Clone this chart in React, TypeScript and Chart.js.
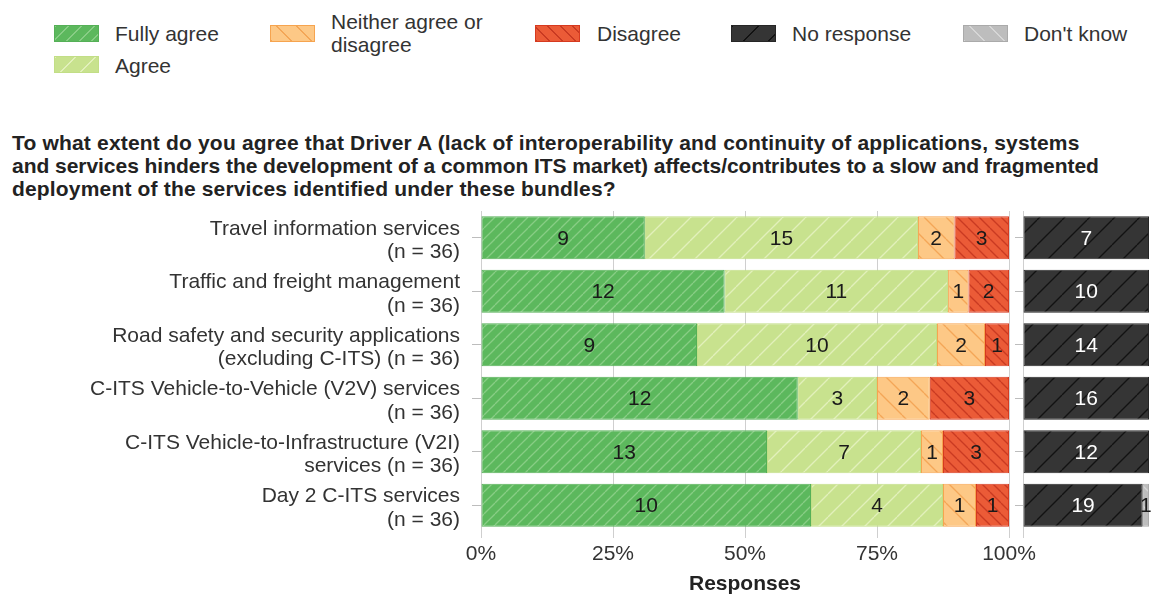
import React, { useEffect, useRef } from 'react';
import { Chart, registerables } from 'chart.js';

Chart.register(...registerables);

const FONT = "'Liberation Sans', Arial, Helvetica, sans-serif";

// ---- data ----
const categories: string[][] = [
  ['Travel information services', '(n = 36)'],
  ['Traffic and freight management', '(n = 36)'],
  ['Road safety and security applications', '(excluding C-ITS) (n = 36)'],
  ['C-ITS Vehicle-to-Vehicle (V2V) services', '(n = 36)'],
  ['C-ITS Vehicle-to-Infrastructure (V2I)', 'services (n = 36)'],
  ['Day 2 C-ITS services', '(n = 36)'],
];
const fullyAgree = [9, 12, 9, 12, 13, 10];
const agree = [15, 11, 10, 3, 7, 4];
const neither = [2, 1, 2, 2, 1, 1];
const disagree = [3, 2, 1, 3, 3, 1];
const noResponse = [7, 10, 14, 16, 12, 19];
const dontKnow = [0, 0, 0, 0, 0, 1];
const xTickLabels = ['0%', '25%', '50%', '75%', '100%'];
const seriesNames = ['Fully agree', 'Agree', 'Neither agree or disagree', 'Disagree', 'No response', "Don't know"];
const titleLines = [
  'To what extent do you agree that Driver A (lack of interoperability and continuity of applications, systems',
  'and services hinders the development of a common ITS market) affects/contributes to a slow and fragmented',
  'deployment of the services identified under these bundles?',
];

// ---- styles ----
type Sty = { base: string; line: string; border: string; spacing: number; dir: '/' | '\\'; lw: number };
const styles: Sty[] = [
  { base: '#5cb85d', line: '#88cd85', border: '#55b057', spacing: 11, dir: '/', lw: 1.3 },
  { base: '#c8e28e', line: '#e2f0bb', border: '#c2de86', spacing: 23, dir: '/', lw: 1.3 },
  { base: '#fdc886', line: '#f4a657', border: '#f6a44f', spacing: 22, dir: '\\', lw: 1.3 },
  { base: '#eb5b37', line: '#c93a22', border: '#d63a20', spacing: 11, dir: '\\', lw: 1.3 },
  { base: '#353535', line: '#121212', border: '#262626', spacing: 25, dir: '/', lw: 1.3 },
  { base: '#bdbdbd', line: '#d6d6d6', border: '#aaaaaa', spacing: 20, dir: '\\', lw: 1.3 },
];

function makePattern(s: Sty): CanvasPattern | string {
  const c = document.createElement('canvas');
  const n = s.spacing;
  c.width = n;
  c.height = n;
  const g = c.getContext('2d');
  if (!g) return s.base;
  g.fillStyle = s.base;
  g.fillRect(0, 0, n, n);
  g.strokeStyle = s.line;
  g.lineWidth = s.lw;
  for (let k = -1; k <= 1; k++) {
    g.beginPath();
    if (s.dir === '/') {
      g.moveTo(k * n, n);
      g.lineTo(k * n + n, 0);
    } else {
      g.moveTo(k * n, 0);
      g.lineTo(k * n + n, n);
    }
    g.stroke();
  }
  return g.createPattern(c, 'repeat') || s.base;
}

function labelPlugin(counts: number[][], colors: string[]) {
  return {
    id: 'segLabels',
    afterDatasetsDraw(chart: any) {
      const ctx = chart.ctx;
      ctx.save();
      ctx.font = `21px ${FONT}`;
      ctx.textAlign = 'center';
      ctx.textBaseline = 'middle';
      chart.data.datasets.forEach((_ds: any, di: number) => {
        const meta = chart.getDatasetMeta(di);
        meta.data.forEach((el: any, i: number) => {
          const c = counts[di][i];
          if (!c) return;
          const { x, y, base } = el.getProps(['x', 'y', 'base'], true);
          ctx.fillStyle = colors[di];
          ctx.fillText(String(c), (x + base) / 2, y + 1);
        });
      });
      ctx.restore();
    },
  };
}

const CHART_TOP = 195;
const CHART_H = 404;
const LEFT_W = 1152;
const LEFT_PANEL_RIGHT = 1009;
const RIGHT_X = 1012;
const RIGHT_W = 140;
const X_AXIS_H = 67;

export default function App() {
  const leftRef = useRef<HTMLCanvasElement>(null);
  const rightRef = useRef<HTMLCanvasElement>(null);

  useEffect(() => {
    const patterns = styles.map(makePattern);
    const responded = categories.map((_, i) => fullyAgree[i] + agree[i] + neither[i] + disagree[i]);
    const nonResp = categories.map((_, i) => noResponse[i] + dontKnow[i]);
    const leftCounts = [fullyAgree, agree, neither, disagree];
    const rightCounts = [noResponse, dontKnow];

    const barCommon = {
      barPercentage: 0.8,
      categoryPercentage: 1,
      borderWidth: 1,
      borderSkipped: false as const,
    };

    const leftDatasets = leftCounts.map((arr, k) => ({
      label: seriesNames[k],
      data: arr.map((v, i) => (v / responded[i]) * 100),
      backgroundColor: patterns[k],
      borderColor: styles[k].border,
      ...barCommon,
    }));
    const rightDatasets = rightCounts.map((arr, k) => ({
      label: seriesNames[k + 4],
      data: arr.map((v, i) => (nonResp[i] ? (v / nonResp[i]) * 100 : 0)),
      backgroundColor: patterns[k + 4],
      borderColor: styles[k + 4].border,
      ...barCommon,
    }));

    const left = new Chart(leftRef.current as HTMLCanvasElement, {
      type: 'bar',
      data: { labels: categories, datasets: leftDatasets as any },
      options: {
        indexAxis: 'y',
        animation: false,
        responsive: false,
        maintainAspectRatio: false,
        layout: { padding: { top: 16, right: LEFT_W - LEFT_PANEL_RIGHT, bottom: 0, left: 0 } },
        plugins: { legend: { display: false }, tooltip: { enabled: false }, title: { display: false } },
        scales: {
          x: {
            stacked: true,
            min: 0,
            max: 100,
            ticks: {
              stepSize: 25,
              autoSkip: false,
              maxRotation: 0,
              padding: 4,
              color: '#333',
              font: { family: FONT, size: 21 },
              callback: (v: any) => xTickLabels[Math.round(Number(v) / 25)],
            },
            grid: { color: '#cfcfcf', lineWidth: 1, tickLength: 6, drawTicks: true },
            border: { display: false },
            title: {
              display: true,
              text: 'Responses',
              color: '#222',
              font: { family: FONT, size: 21, weight: 'bold' },
              padding: { top: 2, bottom: 2 },
            },
            afterFit: (s: any) => {
              s.height = X_AXIS_H;
              s.paddingLeft = 0;
              s.paddingRight = 0;
            },
          },
          y: {
            stacked: true,
            ticks: {
              color: '#333',
              padding: 12,
              labelOffset: 3,
              font: { family: FONT, size: 21, lineHeight: 1.12 },
            },
            grid: { offset: false, drawOnChartArea: false, tickLength: 9, color: '#bdbdbd' },
            border: { display: false },
            afterFit: (s: any) => {
              s.width = 481;
              s.paddingTop = 0;
              s.paddingBottom = 0;
            },
          },
        } as any,
      },
      plugins: [labelPlugin(leftCounts, ['#1a1a1a', '#1a1a1a', '#1a1a1a', '#1a1a1a'])],
    });

    const right = new Chart(rightRef.current as HTMLCanvasElement, {
      type: 'bar',
      data: { labels: categories, datasets: rightDatasets as any },
      options: {
        indexAxis: 'y',
        animation: false,
        responsive: false,
        maintainAspectRatio: false,
        layout: { padding: { top: 16, right: 3, bottom: 0, left: 0 } },
        plugins: { legend: { display: false }, tooltip: { enabled: false }, title: { display: false } },
        scales: {
          x: {
            stacked: true,
            min: 0,
            max: 100,
            ticks: { display: false, stepSize: 25 },
            grid: {
              color: (c: any) => (c.tick && c.tick.value === 0 ? '#cfcfcf' : 'rgba(0,0,0,0)'),
              lineWidth: 1,
              tickLength: 6,
            },
            border: { display: false },
            afterFit: (s: any) => {
              s.height = X_AXIS_H;
              s.paddingLeft = 0;
              s.paddingRight = 0;
            },
          },
          y: {
            stacked: true,
            ticks: { display: false },
            grid: { offset: false, drawOnChartArea: false, tickLength: 8, color: '#bdbdbd' },
            border: { display: false },
            afterFit: (s: any) => {
              s.width = 11;
              s.paddingTop = 0;
              s.paddingBottom = 0;
            },
          },
        } as any,
      },
      plugins: [labelPlugin(rightCounts, ['#ffffff', '#1a1a1a'])],
    });

    return () => {
      left.destroy();
      right.destroy();
    };
  }, []);

  const swatchBg = (s: Sty, period: number) => {
    const ang = s.dir === '/' ? '135deg' : '45deg';
    return `repeating-linear-gradient(${ang}, ${s.line} 0px, ${s.line} 1.3px, ${s.base} 1.3px, ${s.base} ${period}px)`;
  };

  const legendItems = [
    { k: 0, sx: 54, sy: 25, tx: 115, lines: ['Fully agree'], ty: 33 },
    { k: 1, sx: 54, sy: 56, tx: 115, lines: ['Agree'], ty: 65 },
    { k: 2, sx: 270, sy: 25, tx: 331, lines: ['Neither agree or', 'disagree'], ty: 33 },
    { k: 3, sx: 535, sy: 25, tx: 597, lines: ['Disagree'], ty: 33 },
    { k: 4, sx: 731, sy: 25, tx: 792, lines: ['No response'], ty: 33 },
    { k: 5, sx: 963, sy: 25, tx: 1024, lines: ["Don't know"], ty: 33 },
  ];
  const periods = [9, 14, 14, 9, 18, 14];
  const titleSpacing = [0.18, -0.04, 0.17];

  return (
    <div
      style={{
        position: 'fixed',
        left: 0,
        top: 0,
        width: 1152,
        height: 599,
        background: '#ffffff',
        overflow: 'hidden',
        fontFamily: FONT,
      }}
    >
      {legendItems.map((it) => (
        <React.Fragment key={it.k}>
          <div
            style={{
              position: 'absolute',
              left: it.sx,
              top: it.sy,
              width: 45,
              height: 17,
              boxSizing: 'border-box',
              border: `1px solid ${styles[it.k].border}`,
              background: swatchBg(styles[it.k], periods[it.k]),
            }}
          />
          <div
            style={{
              position: 'absolute',
              left: it.tx,
              top: it.ty - (it.lines.length * 23) / 2,
              fontSize: 21,
              lineHeight: '23px',
              color: '#333',
              whiteSpace: 'pre',
            }}
          >
            {it.lines.join('\n')}
          </div>
        </React.Fragment>
      ))}
      <div
        style={{
          position: 'absolute',
          left: 12,
          top: 131,
          fontSize: 21,
          fontWeight: 'bold',
          lineHeight: '23px',
          color: '#222',
          whiteSpace: 'pre',
        }}
      >
        {titleLines.map((t, i) => (
          <div key={i} style={{ letterSpacing: `${titleSpacing[i]}px` }}>
            {t}
          </div>
        ))}
      </div>
      <canvas
        ref={leftRef}
        width={LEFT_W}
        height={CHART_H}
        style={{ position: 'absolute', left: 0, top: CHART_TOP, width: LEFT_W, height: CHART_H }}
      />
      <canvas
        ref={rightRef}
        width={RIGHT_W}
        height={CHART_H}
        style={{ position: 'absolute', left: RIGHT_X, top: CHART_TOP, width: RIGHT_W, height: CHART_H }}
      />
    </div>
  );
}
